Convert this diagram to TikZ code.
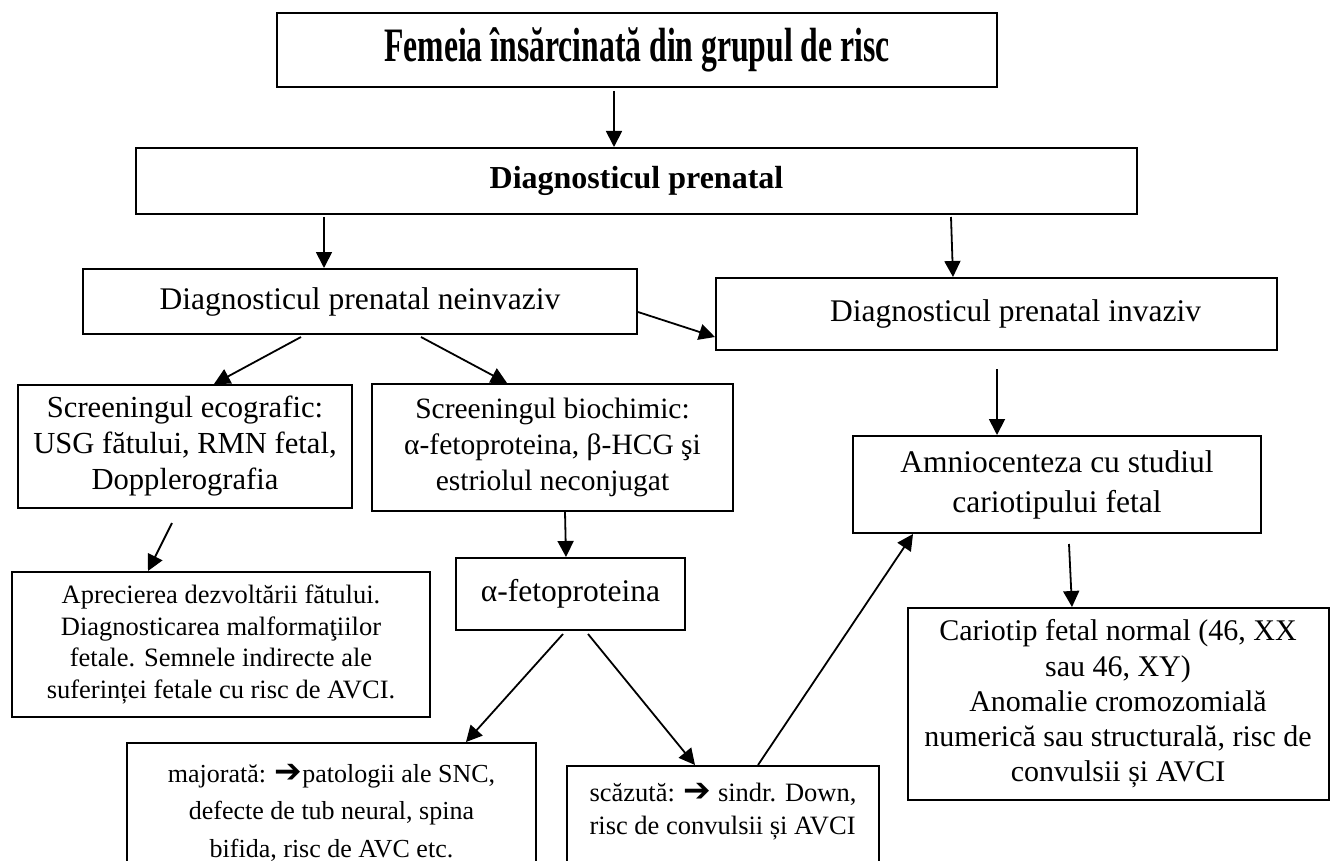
\documentclass[tikz,border=0pt]{standalone}
\usepackage{fontspec}
\setmainfont{Liberation Serif}
\newfontfamily\symfont{DejaVu Sans}
\usepackage{graphicx}
\usetikzlibrary{arrows.meta}

\newcommand{\rarrow}{{\symfont\fontsize{33}{33}\selectfont ➔}}

\begin{document}
\begin{tikzpicture}[
    x=1pt, y=-1pt,
    box/.style={draw, line width=2pt, align=center, inner sep=0pt, font=\fontsize{31.5}{36}\selectfont},
    small/.style={font=\fontsize{26.5}{31.5}\selectfont},
    arrow/.style={-{Triangle[length=16pt,width=16pt]}, line width=1.8pt}
]
\useasboundingbox (0,0) rectangle (1330,861);
\clip (0,0) rectangle (1330,861);
\fill[white] (0,0) rectangle (1330,861);

% Boxes
\node[box, minimum width=720pt, minimum height=74pt] (risc) at (637, 50) {\scalebox{0.66}[1]{\fontsize{48}{55}\selectfont\bfseries Femeia însărcinată din grupul de risc}};
\node[box, minimum width=1001pt, minimum height=66pt] (prenatal) at (636.5, 181) {\fontsize{32}{37}\selectfont\bfseries Diagnosticul prenatal};
\node[box, minimum width=554pt, minimum height=65pt] (neinvaziv) at (360, 301.5) {Diagnosticul prenatal neinvaziv};
\node[box, minimum width=561pt, minimum height=72pt] (invaziv) at (996.5, 314) {\hspace*{38pt}Diagnosticul prenatal invaziv};
\node[box, minimum width=334pt, minimum height=123pt, font=\fontsize{30.6}{36}\selectfont] (ecografic) at (185, 446.5) {Screeningul ecografic:\\ USG fătului, RMN fetal,\\ Dopplerografia};
\node[box, minimum width=361pt, minimum height=127pt, font=\fontsize{29.5}{36}\selectfont] (biochimic) at (552.5, 447.5) {Screeningul biochimic:\\ α-fetoproteina, β-HCG şi\\ estriolul neconjugat};
\node[box, small, minimum width=418pt, minimum height=145pt] (apreciere) at (221, 644.5) {Aprecierea dezvoltării fătului.\\ Diagnosticarea malformaţiilor\\ fetale. Semnele indirecte ale\\ suferinței fetale cu risc de AVCI.};
\node[box, minimum width=229pt, minimum height=72pt] (alfa) at (570.5, 594) {α-fetoproteina};
\node[box, anchor=north, minimum width=409pt, inner ysep=21pt, text depth=90pt, font=\fontsize{26}{37.5}\selectfont] (majorata) at (331.5, 742) {majorată: \rarrow patologii ale SNC,\\ defecte de tub neural, spina\\ bifida, risc de AVC etc.};
\node[box, anchor=north, align=left, minimum width=312pt, inner ysep=17pt, text depth=60pt, font=\fontsize{26.5}{32.7}\selectfont] (scazuta) at (723, 765) {scăzută: \rarrow{} sindr. Down,\\ risc de convulsii și AVCI};
\node[box, minimum width=408pt, minimum height=97pt, font=\fontsize{31.5}{40}\selectfont] (amnio) at (1057, 484.5) {Amniocenteza cu studiul\\ cariotipului fetal};
\node[box, minimum width=421pt, minimum height=192pt, font=\fontsize{30}{35.3}\selectfont] (cariotip) at (1118, 704) {Cariotip fetal normal (46, XX\\ sau 46, XY)\\ Anomalie cromozomială\\ numerică sau structurală, risc de\\ convulsii și AVCI};

% Arrows
\draw[arrow] ([xshift=-23pt,yshift=-3pt]risc.south) -- ([xshift=-22.5pt]prenatal.north);
\draw[arrow] ([xshift=-312.5pt,yshift=-2pt]prenatal.south) -- ([xshift=-36pt]neinvaziv.north);
\draw[arrow] ([xshift=314.5pt,yshift=-2pt]prenatal.south) -- ([xshift=-43.5pt]invaziv.north);
\draw[arrow] ([yshift=-10.5pt]neinvaziv.east) -- ([yshift=-23pt]invaziv.west);
\draw[arrow] ([xshift=-59pt,yshift=-2pt]neinvaziv.south) -- ([xshift=29pt]ecografic.north);
\draw[arrow] ([xshift=61pt,yshift=-2pt]neinvaziv.south) -- ([xshift=-45.5pt]biochimic.north);
\draw[arrow] ([xshift=-13pt,yshift=-14pt]ecografic.south) -- ([xshift=-73pt]apreciere.north);
\draw[arrow] ([xshift=12.5pt]biochimic.south) -- ([xshift=-4.5pt]alfa.north);
\draw[arrow] ([xshift=-7.5pt,yshift=-3pt]alfa.south) -- ([xshift=134.5pt]majorata.north);
\draw[arrow] ([xshift=17.5pt,yshift=-3pt]alfa.south) -- ([xshift=-28pt]scazuta.north);
\draw[arrow] ([xshift=35pt]scazuta.north) -- ([xshift=-144pt]amnio.south);
\draw[arrow] ([xshift=0.5pt,yshift=-18pt]invaziv.south) -- ([xshift=-60pt]amnio.north);
\draw[arrow] ([xshift=12pt,yshift=-10pt]amnio.south) -- ([xshift=-46pt]cariotip.north);

\end{tikzpicture}
\end{document}
